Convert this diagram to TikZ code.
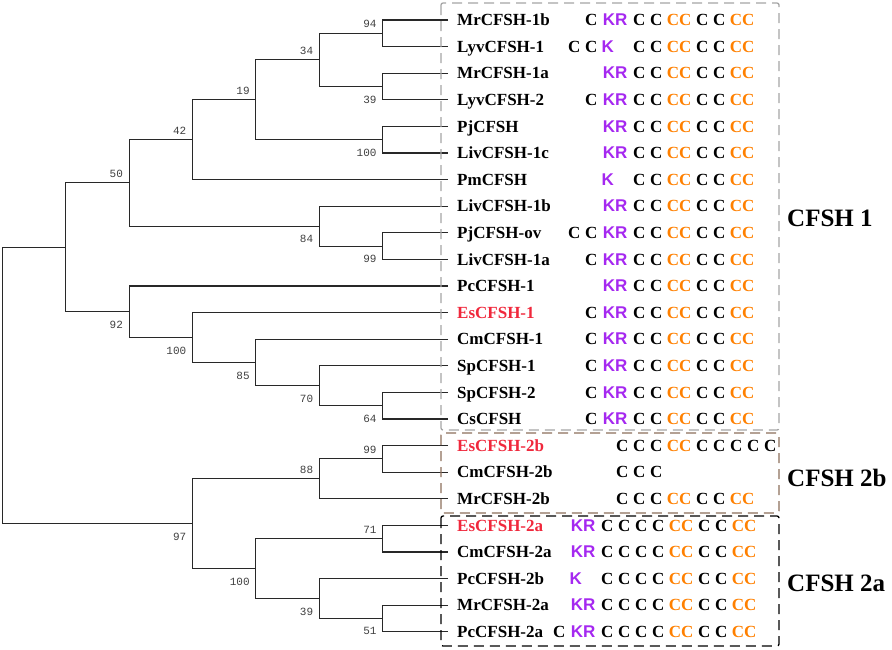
\documentclass[tikz,border=0pt]{standalone}
\usepackage{fontspec}
\setmainfont{Liberation Serif}
\setsansfont{Liberation Sans}
\newfontfamily\bootfont{Liberation Mono}

\definecolor{ccorange}{RGB}{255,128,0}
\definecolor{krpurple}{RGB}{165,40,240}
\definecolor{esred}{RGB}{240,40,60}
\definecolor{boxgray}{RGB}{165,165,165}
\definecolor{boxbrown}{RGB}{140,110,90}
\definecolor{treegray}{RGB}{40,40,40}

% motif letters
\newcommand{\motC}{\makebox[17pt]{\bfseries C}}
\newcommand{\motCC}{\makebox[29pt]{\bfseries\color{ccorange}CC}}
\newcommand{\motKR}{\makebox[31pt]{\sffamily\bfseries\color{krpurple}KR}}
\newcommand{\motK}{\makebox[31pt][l]{\hspace{2pt}\sffamily\bfseries\color{krpurple}K}}
\newcommand{\tailone}{\motC\motC\motCC\motC\motC\motCC}
\newcommand{\tailtwo}{\motC\motC\motC\motC\motCC\motC\motC\motCC}

\tikzset{
  leaf/.style={anchor=west, inner xsep=9pt, inner ysep=0pt, text height=11.2pt,
    text depth=0pt, font=\fontsize{17}{20}\selectfont\bfseries},
  motif/.style={anchor=west, inner sep=0pt, text height=11.2pt, text depth=0pt,
    font=\fontsize{17}{20}\selectfont},
  branch/.style={draw=treegray, line width=1.1pt},
  bsup/.style={anchor=south east, inner sep=0pt, xshift=-6pt, yshift=5pt,
    text=black!75, font=\bootfont\fontsize{11}{12}\selectfont},
  bsdown/.style={anchor=north east, inner sep=0pt, xshift=-6pt, yshift=-9pt,
    text=black!75, font=\bootfont\fontsize{11}{12}\selectfont},
  grpbox/.style={line width=1.3pt, dash pattern=on 10pt off 6pt, rounded corners=2pt},
  grplab/.style={anchor=west, inner sep=0pt, font=\fontsize{25}{30}\selectfont\bfseries}
}

\begin{document}
\begin{tikzpicture}[x=1pt, y=-1pt]
    \useasboundingbox (0,0) rectangle (892,649);

    % draw leaf names
    \foreach \i/\lab/\col in {0/MrCFSH-1b/black, 1/LyvCFSH-1/black, 2/MrCFSH-1a/black,
        3/LyvCFSH-2/black, 4/PjCFSH/black, 5/LivCFSH-1c/black, 6/PmCFSH/black,
        7/LivCFSH-1b/black, 8/PjCFSH-ov/black, 9/LivCFSH-1a/black, 10/PcCFSH-1/black,
        11/EsCFSH-1/esred, 12/CmCFSH-1/black, 13/SpCFSH-1/black, 14/SpCFSH-2/black,
        15/CsCFSH/black, 16/EsCFSH-2b/esred, 17/CmCFSH-2b/black, 18/MrCFSH-2b/black,
        19/EsCFSH-2a/esred, 20/CmCFSH-2a/black, 21/PcCFSH-2b/black, 22/MrCFSH-2a/black,
        23/PcCFSH-2a/black}
        \node[leaf, text=\col] (l\i) at (448, {20+26.6*\i}) {\lab};

    % draw motifs
    \foreach \i/\x/\seq in {0/582.5/\motC\motKR\tailone, 1/565.5/\motC\motC\motK\tailone,
        2/599.5/\motKR\tailone, 3/582.5/\motC\motKR\tailone, 4/599.5/\motKR\tailone,
        5/599.5/\motKR\tailone, 6/599.5/\motK\tailone, 7/599.5/\motKR\tailone,
        8/565.5/\motC\motC\motKR\tailone, 9/582.5/\motC\motKR\tailone,
        10/599.5/\motKR\tailone, 11/582.5/\motC\motKR\tailone, 12/582.5/\motC\motKR\tailone,
        13/582.5/\motC\motKR\tailone, 14/582.5/\motC\motKR\tailone,
        15/582.5/\motC\motKR\tailone,
        16/613.5/\motC\motC\motC\motCC\motC\motC\motC\motC\motC,
        17/613.5/\motC\motC\motC,
        18/613.5/\motC\motC\motC\motCC\motC\motC\motCC,
        19/567.5/\motKR\tailtwo, 20/567.5/\motKR\tailtwo, 21/567.5/\motK\tailtwo,
        22/567.5/\motKR\tailtwo, 23/550.5/\motC\motKR\tailtwo}
        \node[motif] (m\i) at ({\x}, {20+26.6*\i}) {\seq};

    % inner nodes
    \coordinate (n94) at (382.7, 33.3);
    \coordinate (n39a) at (382.7, 86.5);
    \coordinate (n34) at (319.3, 59.9);
    \coordinate (n100a) at (382.7, 139.7);
    \coordinate (n19) at (255.9, 99.8);
    \coordinate (n42) at (192.5, 139.7);
    \coordinate (n99a) at (382.7, 246.1);
    \coordinate (n84) at (319.3, 226.15);
    \coordinate (n50) at (129.1, 182.9);
    \coordinate (n64) at (382.7, 405.7);
    \coordinate (n70) at (319.3, 385.75);
    \coordinate (n85) at (255.9, 362.5);
    \coordinate (n100b) at (192.5, 337.5);
    \coordinate (n92) at (129.1, 311.8);
    \coordinate (na) at (65.7, 247.3);
    \coordinate (n99b) at (382.7, 458.9);
    \coordinate (n88) at (319.3, 478.85);
    \coordinate (n71) at (382.7, 538.7);
    \coordinate (n51) at (382.7, 618.5);
    \coordinate (n39b) at (319.3, 598.55);
    \coordinate (n100c) at (255.9, 568.6);
    \coordinate (n97) at (192.5, 523.7);
    \coordinate (root) at (2.3, 385.5);

    % draw branches
    \draw[branch] (l0.west) -| (n94) |- (l1.west);
    \draw[branch] (l2.west) -| (n39a) |- (l3.west);
    \draw[branch] (n94) -| (n34) |- (n39a);
    \draw[branch] (l4.west) -| (n100a) |- (l5.west);
    \draw[branch] (n34) -| (n19) |- (n100a);
    \draw[branch] (n19) -| (n42) |- (l6.west);
    \draw[branch] (l8.west) -| (n99a) |- (l9.west);
    \draw[branch] (l7.west) -| (n84) |- (n99a);
    \draw[branch] (n42) -| (n50) |- (n84);
    \draw[branch] (l14.west) -| (n64) |- (l15.west);
    \draw[branch] (l13.west) -| (n70) |- (n64);
    \draw[branch] (l12.west) -| (n85) |- (n70);
    \draw[branch] (l11.west) -| (n100b) |- (n85);
    \draw[branch] (l10.west) -| (n92) |- (n100b);
    \draw[branch] (n50) -| (na) |- (n92);
    \draw[branch] (l16.west) -| (n99b) |- (l17.west);
    \draw[branch] (n99b) -| (n88) |- (l18.west);
    \draw[branch] (l19.west) -| (n71) |- (l20.west);
    \draw[branch] (l22.west) -| (n51) |- (l23.west);
    \draw[branch] (l21.west) -| (n39b) |- (n51);
    \draw[branch] (n71) -| (n100c) |- (n39b);
    \draw[branch] (n88) -| (n97) |- (n100c);
    \draw[branch] (na) -| (root) |- (n97);

    % draw bootstrap values
    \node[bsup] (b94) at (n94) {94};
    \node[bsdown] (b39a) at (n39a) {39};
    \node[bsup] (b34) at (n34) {34};
    \node[bsdown] (b100a) at (n100a) {100};
    \node[bsup] (b19) at (n19) {19};
    \node[bsup] (b42) at (n42) {42};
    \node[bsdown] (b99a) at (n99a) {99};
    \node[bsdown] (b84) at (n84) {84};
    \node[bsup] (b50) at (n50) {50};
    \node[bsdown] (b64) at (n64) {64};
    \node[bsdown] (b70) at (n70) {70};
    \node[bsdown] (b85) at (n85) {85};
    \node[bsdown] (b100b) at (n100b) {100};
    \node[bsdown] (b92) at (n92) {92};
    \node[bsup] (b99b) at (n99b) {99};
    \node[bsup] (b88) at (n88) {88};
    \node[bsup] (b71) at (n71) {71};
    \node[bsdown] (b51) at (n51) {51};
    \node[bsdown] (b39b) at (n39b) {39};
    \node[bsdown] (b100c) at (n100c) {100};
    \node[bsdown] (b97) at (n97) {97};

    % draw group boxes
    \draw[grpbox, draw=boxgray] (441,3) rectangle (779,430);
    \draw[grpbox, draw=boxbrown] (441,433) rectangle (779,513);
    \draw[grpbox, draw=black] (441,516) rectangle (779,646);
    \node[grplab] (g1) at (787, 218.3) {CFSH 1};
    \node[grplab] (g2b) at (787, 478.3) {CFSH 2b};
    \node[grplab] (g2a) at (787, 583.3) {CFSH 2a};
\end{tikzpicture}
\end{document}
